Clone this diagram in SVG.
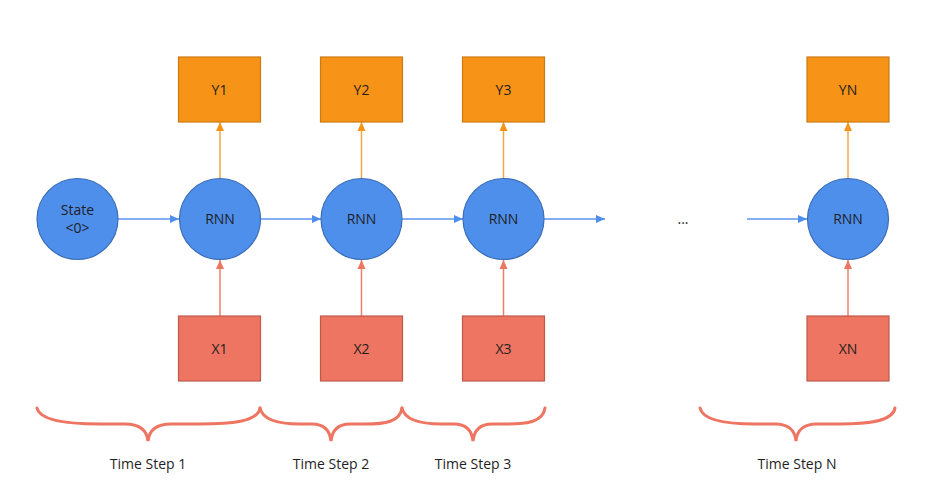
<svg xmlns="http://www.w3.org/2000/svg" width="946" height="492" viewBox="0 0 946 492">
<defs>
<style>
.rnn{fill:#4E8FEC;stroke:#3B6DB5;stroke-width:1.2}
.y{fill:#F79316;stroke:#CC7A14;stroke-width:1.2}
.x{fill:#EE7561;stroke:#BF5A4A;stroke-width:1.2}
.t{font-family:"Open Sans","Noto Sans","Liberation Sans",sans-serif;font-size:14px;fill:#1e1e1e;text-anchor:middle}
.b{stroke:#5B95EE;stroke-width:1.5;fill:none}
.o{stroke:#F9A444;stroke-width:1.5;fill:none}
.r{stroke:#EF7F6C;stroke-width:1.5;fill:none}
.br{stroke:#EE7561;stroke-width:3;fill:none;stroke-linecap:round}
</style>
<marker id="mb" markerWidth="10" markerHeight="10" refX="9" refY="5" orient="auto" markerUnits="userSpaceOnUse"><path d="M0,1 L9,5 L0,9 Z" fill="#4E8FEC"/></marker>
<marker id="mo" markerWidth="10" markerHeight="10" refX="9" refY="5" orient="auto" markerUnits="userSpaceOnUse"><path d="M0,1 L9,5 L0,9 Z" fill="#F79316"/></marker>
<marker id="mr" markerWidth="10" markerHeight="10" refX="9" refY="5" orient="auto" markerUnits="userSpaceOnUse"><path d="M0,1 L9,5 L0,9 Z" fill="#EE7561"/></marker>
</defs>
<rect width="946" height="492" fill="#fff"/>
<g id="connectors">
<line class="b" x1="118" y1="219" x2="179" y2="219" marker-end="url(#mb)"/>
<line class="b" x1="261" y1="219" x2="321" y2="219" marker-end="url(#mb)"/>
<line class="b" x1="402" y1="219" x2="463" y2="219" marker-end="url(#mb)"/>
<line class="b" x1="544" y1="219" x2="605" y2="219" marker-end="url(#mb)"/>
<line class="b" x1="747" y1="219" x2="807" y2="219" marker-end="url(#mb)"/>
<line class="o" x1="220" y1="179" x2="220" y2="122" marker-end="url(#mo)"/>
<line class="o" x1="361.5" y1="179" x2="361.5" y2="122" marker-end="url(#mo)"/>
<line class="o" x1="503.5" y1="179" x2="503.5" y2="122" marker-end="url(#mo)"/>
<line class="o" x1="848" y1="179" x2="848" y2="122" marker-end="url(#mo)"/>
<line class="r" x1="220" y1="316" x2="220" y2="260" marker-end="url(#mr)"/>
<line class="r" x1="361.5" y1="316" x2="361.5" y2="260" marker-end="url(#mr)"/>
<line class="r" x1="503.5" y1="316" x2="503.5" y2="260" marker-end="url(#mr)"/>
<line class="r" x1="848" y1="316" x2="848" y2="260" marker-end="url(#mr)"/>
</g>
<g id="state0"><circle class="rnn" cx="77.5" cy="219" r="40.5"/><text class="t" x="77.5" y="215">State</text><text class="t" x="77.5" y="233">&lt;0&gt;</text></g>
<g id="rnn1"><circle class="rnn" cx="220" cy="219" r="40.5"/><text class="t" x="220" y="224">RNN</text></g>
<g id="rnn2"><circle class="rnn" cx="361.5" cy="219" r="40.5"/><text class="t" x="361.5" y="224">RNN</text></g>
<g id="rnn3"><circle class="rnn" cx="503.5" cy="219" r="40.5"/><text class="t" x="503.5" y="224">RNN</text></g>
<g id="rnnN"><circle class="rnn" cx="848" cy="219" r="40.5"/><text class="t" x="848" y="224">RNN</text></g>
<g id="y1"><rect class="y" x="178.5" y="57" width="82" height="65"/><text class="t" x="219.5" y="95">Y1</text></g>
<g id="y2"><rect class="y" x="320.5" y="57" width="82" height="65"/><text class="t" x="361.5" y="95">Y2</text></g>
<g id="y3"><rect class="y" x="462.5" y="57" width="82" height="65"/><text class="t" x="503.5" y="95">Y3</text></g>
<g id="yN"><rect class="y" x="807" y="57" width="82" height="65"/><text class="t" x="848" y="95">YN</text></g>
<g id="x1"><rect class="x" x="178.5" y="316" width="82" height="65"/><text class="t" x="219.5" y="354">X1</text></g>
<g id="x2"><rect class="x" x="320.5" y="316" width="82" height="65"/><text class="t" x="361.5" y="354">X2</text></g>
<g id="x3"><rect class="x" x="462.5" y="316" width="82" height="65"/><text class="t" x="503.5" y="354">X3</text></g>
<g id="xN"><rect class="x" x="807" y="316" width="82" height="65"/><text class="t" x="848" y="354">XN</text></g>
<g id="ellipsis"><text class="t" x="683" y="224">...</text></g>
<g id="braces">
<path class="br" d="M37,408 C40,422 75,424 100,424 L125,424 C142,424 147,432 148,441 C149,432 154,424 171,424 L200,424 C230,424 258,422 260,408"/>
<path class="br" d="M260,408 C263,422 285,424 300,424 L312,424 C326,424 330,432 331,441 C332,432 336,424 350,424 L365,424 C385,424 400,422 402,408"/>
<path class="br" d="M402,408 C405,422 427,424 442,424 L454,424 C468,424 472,432 473,441 C474,432 478,424 492,424 L507,424 C527,424 543,422 545,408"/>
<path class="br" d="M700,408 C703,422 735,424 755,424 L775,424 C791,424 795,432 796,441 C797,432 801,424 817,424 L840,424 C865,424 893,422 895,408"/>
</g>
<g id="labels">
<text class="t" x="148" y="469">Time Step 1</text>
<text class="t" x="331" y="469">Time Step 2</text>
<text class="t" x="473" y="469">Time Step 3</text>
<text class="t" x="797" y="469">Time Step N</text>
</g>
</svg>
